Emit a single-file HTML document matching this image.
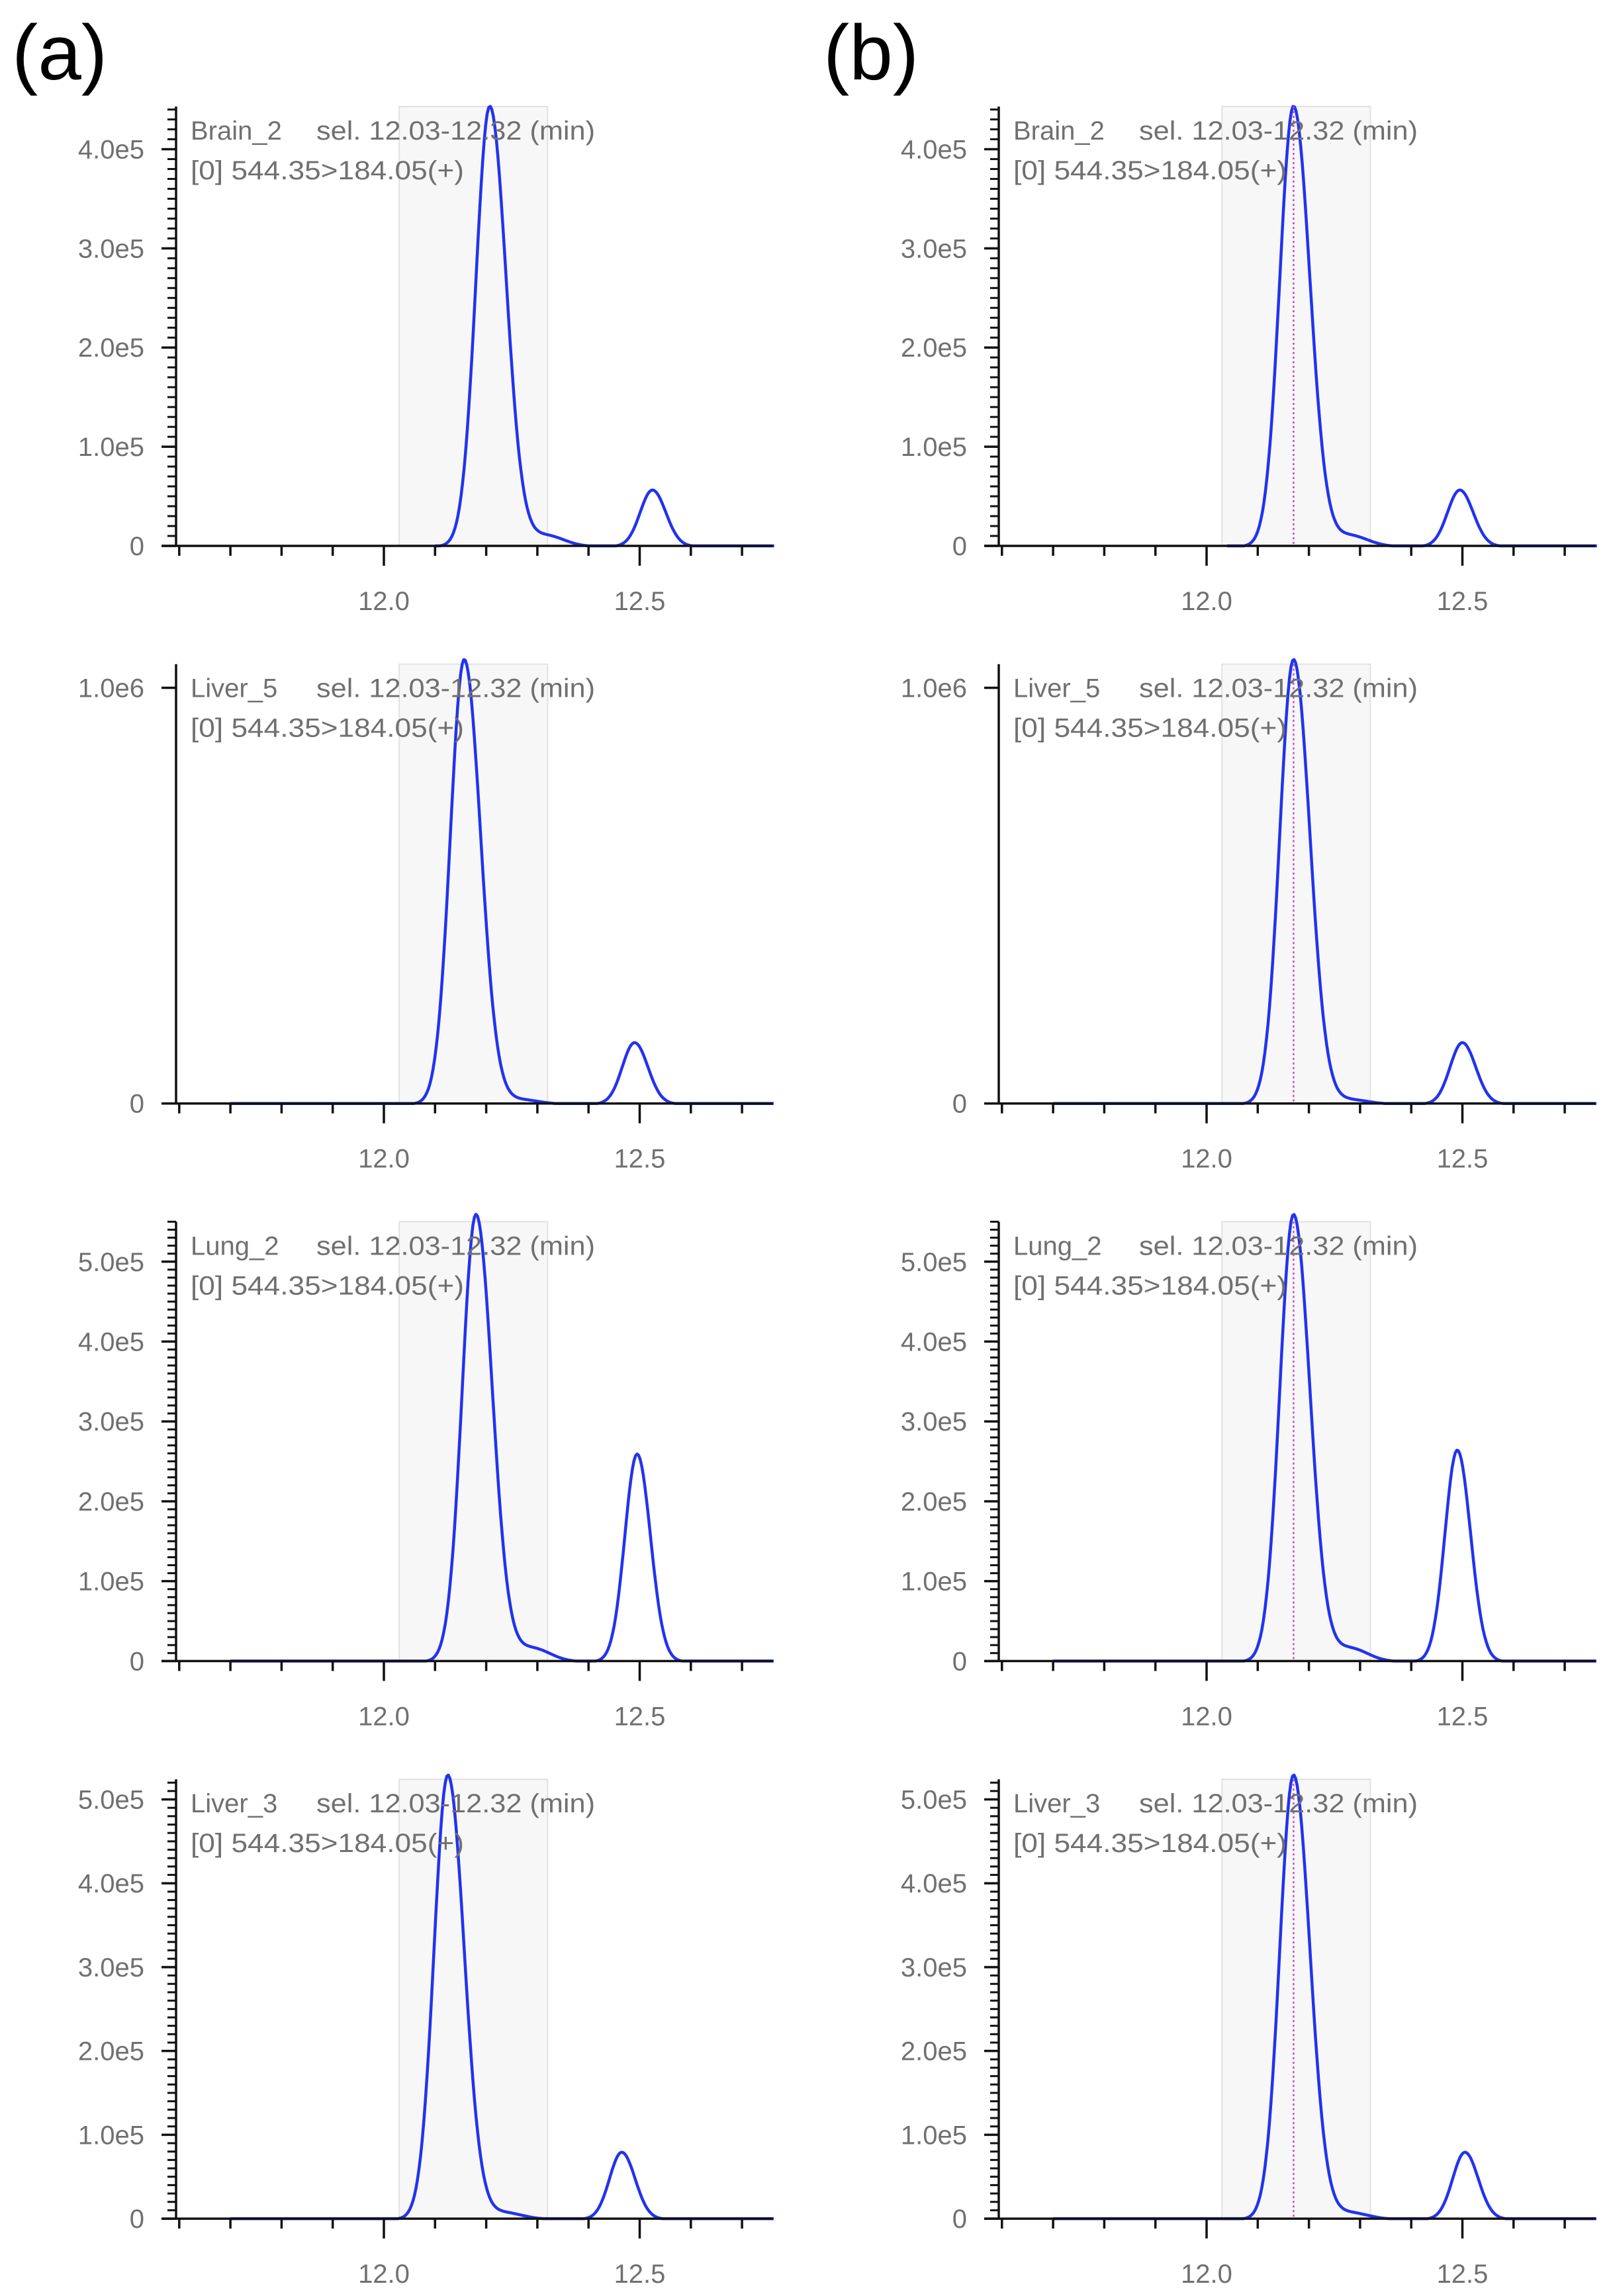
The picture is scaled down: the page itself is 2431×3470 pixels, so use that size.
<!DOCTYPE html>
<html><head><meta charset="utf-8"><style>
html,body{margin:0;padding:0;background:#fff;}
svg{display:block;}
text{font-family:"Liberation Sans",sans-serif;}
</style></head><body>
<svg id="s" width="2431" height="3470" viewBox="0 0 2431 3470" xmlns="http://www.w3.org/2000/svg">
<text x="18" y="120" font-size="118" fill="#000">(a)</text>
<text x="1244" y="120" font-size="118" fill="#000">(b)</text>
</svg>
<script>
const S=document.getElementById('s');const NS='http://www.w3.org/2000/svg';
function el(t,a,txt){const e=document.createElementNS(NS,t);for(const k in a)e.setAttribute(k,a[k]);if(txt!==undefined)e.textContent=txt;S.appendChild(e);return e;}
const panels=[
 {name:'Brain_2',ymax:4.43e5,ticks:[[0,'0'],[1e5,'1.0e5'],[2e5,'2.0e5'],[3e5,'3.0e5'],[4e5,'4.0e5']],minor:1e4,
  L:{start:12.10,p:[[12.207,4.44e5],[12.525,0.57e5]]},R:{start:12.04,p:[[12.17,4.44e5],[12.495,0.57e5]]},sh:0.025},
 {name:'Liver_5',ymax:1.057e6,ticks:[[0,'0'],[1e6,'1.0e6']],minor:null,
  L:{start:11.70,p:[[12.157,1.07e6],[12.49,1.48e5]]},R:{start:11.70,p:[[12.17,1.07e6],[12.50,1.48e5]]},sh:0.01},
 {name:'Lung_2',ymax:5.5e5,ticks:[[0,'0'],[1e5,'1.0e5'],[2e5,'2.0e5'],[3e5,'3.0e5'],[4e5,'4.0e5'],[5e5,'5.0e5']],minor:1e4,
  L:{start:11.70,p:[[12.18,5.6e5],[12.495,2.6e5]]},R:{start:11.70,p:[[12.17,5.6e5],[12.49,2.65e5]]},sh:0.03},
 {name:'Liver_3',ymax:5.24e5,ticks:[[0,'0'],[1e5,'1.0e5'],[2e5,'2.0e5'],[3e5,'3.0e5'],[4e5,'4.0e5'],[5e5,'5.0e5']],minor:1e4,
  L:{start:11.70,p:[[12.125,5.3e5],[12.465,0.8e5]]},R:{start:11.70,p:[[12.17,5.3e5],[12.505,0.8e5]]},sh:0.015}
];
panels.forEach((P,k)=>{
 const top=161+k*842.7, base=825+k*842.7, H=base-top;
 [0,1].forEach(side=>{
  const ox=side?1243:0;
  const X=t=>ox+580+(t-12)*773;
  const Y=v=>base-v/P.ymax*H;
  el('rect',{x:X(12.03),y:top,width:X(12.32)-X(12.03),height:H,fill:'#f7f7f7',stroke:'#e2e2e2','stroke-width':2});
  const D=side?P.R:P.L;let d='';
  for(let t=D.start;t<=12.765;t+=0.003){
   let v=0;
   D.p.forEach((pk,i)=>{const[m,h]=pk;const s=i==0?(t<m?0.027:0.032):(t<m?0.024:0.026);v+=h*Math.exp(-0.5*((t-m)/s)**2);});
   const m0=D.p[0][0],h0=D.p[0][1];
   v+=h0*P.sh*Math.exp(-0.5*((t-(m0+0.11))/0.035)**2);
   d+=(d?'L':'M')+X(t).toFixed(1)+','+Math.min(base,Y(v)+1).toFixed(1);
  }
  el('path',{d:d,fill:'none',stroke:'#2233ee','stroke-width':4.5,'stroke-linejoin':'round'});
  if(side) el('line',{x1:X(12.17),y1:top,x2:X(12.17),y2:base,stroke:'#cc44cc','stroke-width':2.5,'stroke-dasharray':'3,4'});
  const ax=ox+266;
  el('line',{x1:ax,y1:top,x2:ax,y2:base,stroke:'#111','stroke-width':3.5});
  el('line',{x1:ax-22,y1:base,x2:X(12.76),y2:base,stroke:'#111','stroke-width':3.5});
  if(P.minor){for(let v=P.minor;Y(v)>=top-1;v+=P.minor)el('line',{x1:ax-13,y1:Y(v),x2:ax,y2:Y(v),stroke:'#111','stroke-width':3});}
  P.ticks.forEach(([v,l])=>{el('line',{x1:ax-22,y1:Y(v),x2:ax,y2:Y(v),stroke:'#111','stroke-width':3.5});
   el('text',{x:ox+218,y:Y(v)+14,'font-size':40,fill:'#707070','text-anchor':'end'},l);});
  for(let i=0;i<12;i++){const t=11.6+i*0.1;const x=X(t);if(x>X(12.76))break;const mj=Math.abs(t-12)<0.01||Math.abs(t-12.5)<0.01;
   el('line',{x1:x,y1:base,x2:x,y2:base+(mj?30:15),stroke:'#111','stroke-width':3.5});}
  el('text',{x:X(12.0),y:base+97,'font-size':40,fill:'#707070','text-anchor':'middle'},'12.0');
  el('text',{x:X(12.5),y:base+97,'font-size':40,fill:'#707070','text-anchor':'middle'},'12.5');
  el('text',{x:ox+288,y:top+50,'font-size':40,fill:'#707070'},P.name);
  el('text',{x:ox+478,y:top+50,'font-size':40,fill:'#707070',textLength:421,lengthAdjust:'spacingAndGlyphs'},'sel. 12.03-12.32 (min)');
  el('text',{x:ox+288,y:top+110,'font-size':40,fill:'#707070',textLength:413,lengthAdjust:'spacingAndGlyphs'},'[0] 544.35>184.05(+)');
 });
});
</script>
</body></html>
